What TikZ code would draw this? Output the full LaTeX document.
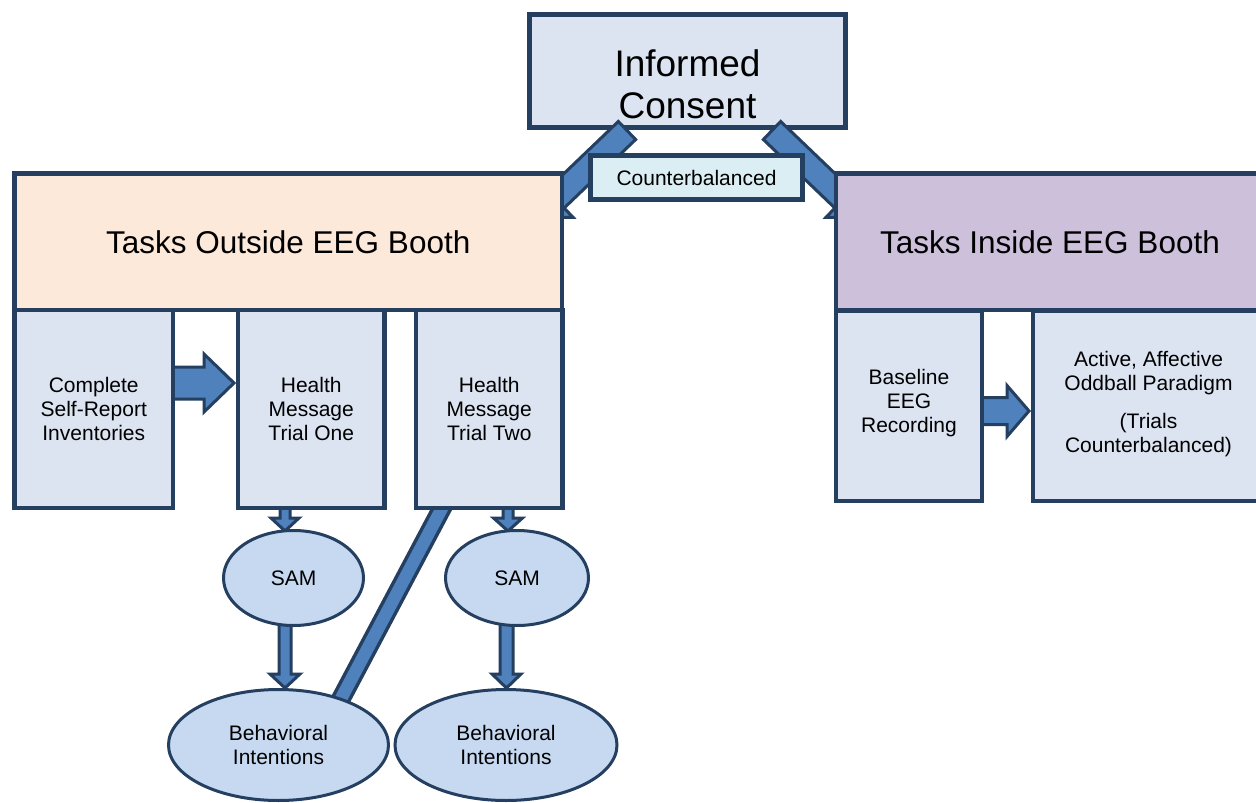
\documentclass[tikz,border=0pt]{standalone}
\usepackage{fontspec}
\setmainfont{Liberation Sans}
\usetikzlibrary{shapes.geometric,calc}
\definecolor{navy}{HTML}{243F60}
\definecolor{ablue}{HTML}{4F81BD}
\definecolor{subfill}{HTML}{DCE3F1}
\definecolor{outfill}{HTML}{FDE9D9}
\definecolor{infill}{HTML}{CCC0DA}
\definecolor{cbfill}{HTML}{DBEEF4}
\definecolor{elfill}{HTML}{C6D9F1}
\pgfdeclarelayer{bottom}
\pgfdeclarelayer{arrows}
\pgfsetlayers{bottom,arrows,main}
\newcommand\smallfs{\fontsize{21}{24}\selectfont}
\newcommand\bigfs{\fontsize{31.5}{36}\selectfont}
\newcommand\hugefs{\fontsize{37}{42}\selectfont}
% #1 start, #2 tip, #3 shaft half width, #4 head half width, #5 head length
\newcommand\blockarrow[5]{%
  \coordinate (ba) at (#1);
  \coordinate (bb) at (#2);
  \coordinate (bh) at ($(bb)!#5!(ba)$);
  \draw[barrowstyle] ($(ba)!#3!90:(bb)$) -- ($(bh)!#3!-90:(ba)$) -- ($(bh)!#4!-90:(ba)$) -- (bb)
    -- ($(bh)!#4!90:(ba)$) -- ($(bh)!#3!90:(ba)$) -- ($(ba)!#3!-90:(bb)$) -- cycle;}
\begin{document}
\begin{tikzpicture}[x=1pt,y=-1pt,
  box/.style={draw=navy, line width=4.5pt, rectangle, inner sep=0pt, align=center, text=black},
  ell/.style={draw=navy, line width=3pt, ellipse, inner sep=0pt, fill=elfill, align=center, font=\smallfs},
  barrowstyle/.style={draw=navy, fill=ablue, line width=3pt, line join=miter}]
\useasboundingbox (0,0) rectangle (1256,803);
\clip (0,0) rectangle (1256,803);

\begin{pgfonlayer}{bottom}
\node[box, fill=subfill, minimum width=316pt, minimum height=113pt] (consent) at (687.5,71) {};
\node[align=center, inner sep=0pt, font=\hugefs] (consenttext) at (687.5,84) {Informed\\Consent};
\end{pgfonlayer}

% main boxes
\node[box, fill=outfill, minimum width=547.5pt, minimum height=136.5pt, font=\bigfs] (outside) at (288.25,241.75) {Tasks Outside EEG Booth};
\node[box, fill=infill, minimum width=428pt, minimum height=136.5pt, font=\bigfs] (inside) at (1050,241.75) {Tasks Inside EEG Booth};

\node[box, fill=subfill, minimum width=158.5pt, minimum height=198pt, font=\smallfs] (complete) at (93.75,409) {Complete\\Self-Report\\Inventories};
\node[box, fill=subfill, minimum width=146.5pt, minimum height=198pt, font=\smallfs] (t1) at (311.25,409) {Health\\Message\\Trial One};
\node[box, fill=subfill, minimum width=146.5pt, minimum height=198pt, font=\smallfs] (t2) at (489.25,409) {Health\\Message\\Trial Two};
\node[box, fill=subfill, minimum width=146pt, minimum height=190.5pt] (base) at (909,405.75) {};
\node[align=center, inner sep=0pt, font=\smallfs] (basetext) at (909,403.5) {Baseline\\EEG\\Recording};
\node[box, fill=subfill, minimum width=231pt, minimum height=190.5pt] (active) at (1148.5,405.75) {};
\node[align=center, inner sep=0pt, font=\smallfs] (activetext) at (1148.5,404.5) {Active, Affective\\Oddball Paradigm\\[14pt](Trials\\Counterbalanced)};

\node[ell, minimum width=140pt, minimum height=95pt] (sam1) at (293.5,578) {SAM};
\node[ell, minimum width=143pt, minimum height=95pt] (sam2) at (517,578) {SAM};
\node[ell, minimum width=220pt, minimum height=111pt] (bi1) at (278.5,745) {Behavioral\\Intentions};
\node[ell, minimum width=222pt, minimum height=111pt] (bi2) at (506,745) {Behavioral\\Intentions};

\node[box, fill=cbfill, minimum width=212pt, minimum height=44pt, font=\smallfs] (counter) at (696.5,177.5) {Counterbalanced};

% connector end points
\coordinate (d1s) at (627,130.5);   \coordinate (d1e) at (536.7,217);
\coordinate (d2s) at (772,130.5);   \coordinate (d2e) at (862.3,217);
\coordinate (h1s) at (165,383);     \coordinate (h1e) at (234,383);
\coordinate (h2s) at (975,411);     \coordinate (h2e) at (1029,411);
\coordinate (v1s) at (285,500);     \coordinate (v1e) at (285,531);
\coordinate (v2s) at (285,620);     \coordinate (v2e) at (285,688);
\coordinate (v3s) at (508,500);     \coordinate (v3e) at (508,531);
\coordinate (v4s) at (506.5,620);   \coordinate (v4e) at (506.5,688);
\coordinate (bar1) at (450.4,492.3); \coordinate (bar2) at (329.7,720);

\begin{pgfonlayer}{arrows}
\blockarrow{d1s}{d1e}{12.5pt}{25.5pt}{26pt}
\blockarrow{d2s}{d2e}{12.5pt}{25.5pt}{26pt}
\blockarrow{h1s}{h1e}{16pt}{29pt}{30pt}
\blockarrow{h2s}{h2e}{13.5pt}{25.5pt}{22pt}
\blockarrow{v1s}{v1e}{5pt}{14pt}{13pt}
\blockarrow{v2s}{v2e}{6pt}{15pt}{14pt}
\blockarrow{v3s}{v3e}{5pt}{14.5pt}{13pt}
\blockarrow{v4s}{v4e}{6.5pt}{14.5pt}{14pt}
\draw[navy, line width=19.5pt] (bar1) -- (bar2);
\draw[ablue, line width=12.5pt] (bar1) -- (bar2);
\end{pgfonlayer}
\end{tikzpicture}
\end{document}
